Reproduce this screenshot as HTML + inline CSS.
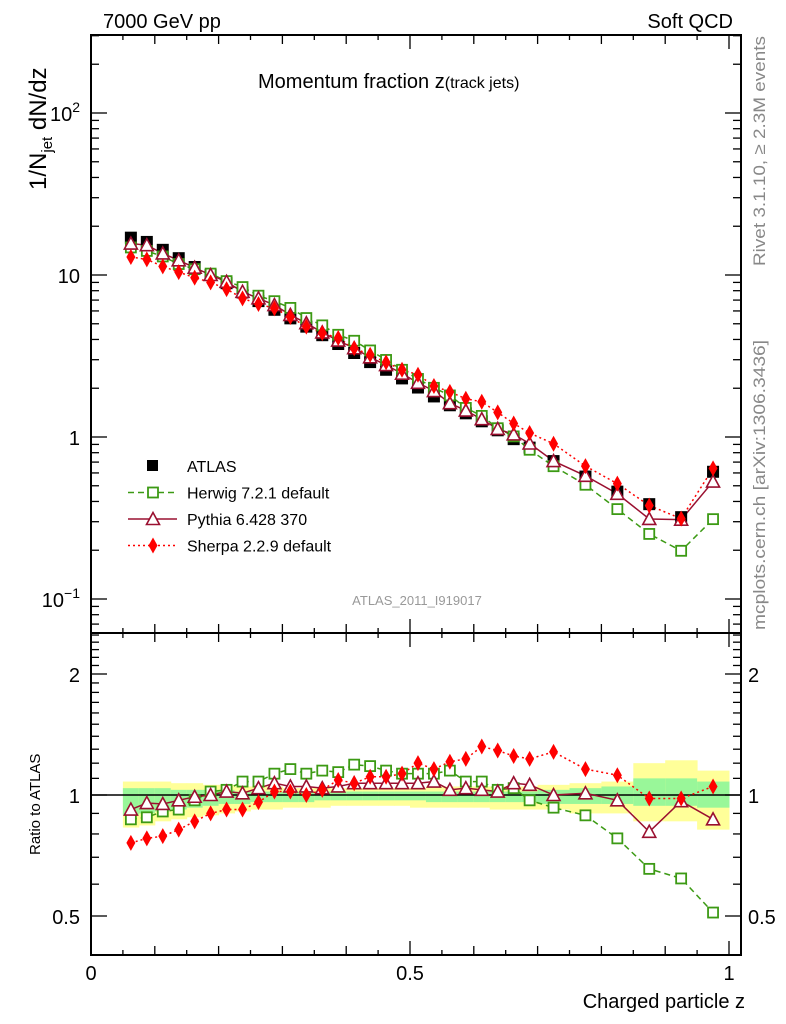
<!DOCTYPE html>
<html><head><meta charset="utf-8"><style>
body{margin:0;background:#fff}
svg{font-family:"Liberation Sans",sans-serif;display:block}
</style></head><body>
<svg id="c" width="786" height="1024" viewBox="0 0 786 1024">
<text x="103" y="28" font-size="20">7000 GeV pp</text>
<text x="733" y="28" font-size="20" text-anchor="end">Soft QCD</text>
<text x="258" y="88" font-size="20">Momentum fraction z<tspan font-size="16">(track jets)</tspan></text>
<text x="417" y="605" font-size="13" fill="#999" text-anchor="middle">ATLAS_2011_I919017</text>
<text transform="translate(765,266) rotate(-90)" font-size="17" textLength="230" lengthAdjust="spacingAndGlyphs" fill="#888">Rivet 3.1.10, ≥ 2.3M events</text>
<text transform="translate(765,630) rotate(-90)" font-size="17" textLength="290" lengthAdjust="spacingAndGlyphs" fill="#888">mcplots.cern.ch [arXiv:1306.3436]</text>
<text transform="translate(46,190) rotate(-90)" font-size="24">1/N<tspan font-size="15" dy="6">jet</tspan><tspan dy="-6"> dN/dz</tspan></text>
<text transform="translate(40,855) rotate(-90)" font-size="15">Ratio to ATLAS</text>
<text x="745" y="1008" font-size="20" text-anchor="end">Charged particle z</text>
<g id="g"></g>
</svg>
<script>
const zCenters=[0.0625,0.0875,0.1125,0.1375,0.1625,0.1875,0.2125,0.2375,0.2625,0.2875,0.3125,0.3375,0.3625,0.3875,0.4125,0.4375,0.4625,0.4875,0.5125,0.5375,0.5625,0.5875,0.6125,0.6375,0.6625,0.6875,0.725,0.775,0.825,0.875,0.925,0.975];
const zHalfW=[0.0125,0.0125,0.0125,0.0125,0.0125,0.0125,0.0125,0.0125,0.0125,0.0125,0.0125,0.0125,0.0125,0.0125,0.0125,0.0125,0.0125,0.0125,0.0125,0.0125,0.0125,0.0125,0.0125,0.0125,0.0125,0.0125,0.025,0.025,0.025,0.025,0.025,0.025];
const atlas=[17,16,14.3,12.7,11.2,10.0,8.9,7.8,6.9,6.1,5.4,4.8,4.25,3.75,3.3,2.9,2.6,2.3,2.02,1.78,1.57,1.4,1.25,1.1,0.97,0.86,0.71,0.57,0.46,0.385,0.32,0.61];
const herwigRatio=[0.87,0.88,0.91,0.92,0.97,1.02,1.03,1.08,1.08,1.13,1.16,1.13,1.15,1.14,1.19,1.18,1.15,1.13,1.13,1.13,1.15,1.08,1.08,1.03,1.04,0.97,0.93,0.89,0.78,0.655,0.62,0.51];
const pythiaRatio=[0.92,0.955,0.95,0.97,0.99,1.0,1.02,1.01,1.04,1.07,1.05,1.05,1.04,1.05,1.07,1.07,1.07,1.07,1.07,1.08,1.03,1.04,1.03,1.02,1.07,1.06,1.0,1.01,0.97,0.81,0.965,0.87];
const sherpaRatio=[0.76,0.78,0.79,0.82,0.86,0.90,0.92,0.92,0.96,1.02,1.02,1.0,1.03,1.09,1.07,1.11,1.11,1.13,1.2,1.16,1.21,1.23,1.32,1.29,1.25,1.23,1.28,1.16,1.12,0.98,0.98,1.05];
const yelHi=[1.08,1.08,1.08,1.07,1.07,1.06,1.06,1.05,1.05,1.05,1.04,1.04,1.04,1.04,1.04,1.04,1.04,1.04,1.04,1.05,1.05,1.05,1.05,1.05,1.05,1.05,1.06,1.07,1.08,1.2,1.22,1.15];
const yelLo=[0.83,0.84,0.86,0.87,0.88,0.89,0.9,0.91,0.92,0.92,0.93,0.93,0.93,0.94,0.94,0.94,0.94,0.94,0.93,0.93,0.93,0.93,0.93,0.92,0.92,0.92,0.92,0.9,0.9,0.86,0.86,0.82];
const grnHi=[1.04,1.04,1.04,1.03,1.03,1.03,1.03,1.02,1.02,1.02,1.02,1.02,1.02,1.02,1.02,1.02,1.02,1.02,1.02,1.02,1.02,1.02,1.02,1.02,1.02,1.02,1.03,1.04,1.05,1.1,1.1,1.08];
const grnLo=[0.89,0.9,0.91,0.92,0.93,0.94,0.95,0.95,0.96,0.96,0.96,0.96,0.97,0.97,0.97,0.97,0.97,0.97,0.97,0.96,0.96,0.96,0.96,0.96,0.96,0.96,0.95,0.95,0.95,0.94,0.94,0.93];
const ratioTicks=[2,1,0.5];
const xTickLabels=[0,0.5,1];

const NS="http://www.w3.org/2000/svg";
const G=document.getElementById('g');
const X0=91,X1=729,XR=741,MT=35,MB=633,RT=633,RB=955;
const xs=z=>X0+(X1-X0)*z;
const ym=v=>437-162*Math.log10(v);
const yr=r=>795-121*Math.log2(r);
function mk(tag,a,parent){const e=document.createElementNS(NS,tag);for(const k in a)e.setAttribute(k,a[k]);(parent||G).appendChild(e);return e;}

for(let i=0;i<zCenters.length;i++){
  const xa=xs(zCenters[i]-zHalfW[i]),xb=xs(zCenters[i]+zHalfW[i]);
  const b1=mk('rect',{x:xa,y:yr(yelHi[i]),width:xb-xa+0.5,height:yr(yelLo[i])-yr(yelHi[i]),fill:'#ffff99'});
  
  
  const b2=mk('rect',{x:xa,y:yr(grnHi[i]),width:xb-xa+0.5,height:yr(grnLo[i])-yr(grnHi[i]),fill:'#99f799'});
  
  
}
mk('line',{x1:X0,x2:XR,y1:yr(1),y2:yr(1),stroke:'#000','stroke-width':1.5});

const f1=mk('rect',{x:X0,y:MT,width:XR-X0,height:MB-MT,fill:'none',stroke:'#000','stroke-width':2});


const f2=mk('rect',{x:X0,y:RT,width:XR-X0,height:RB-RT,fill:'none',stroke:'#000','stroke-width':2});



for(let k=0;k<=20;k++){const z=k*0.05,x=xs(z);const L=(k%10==0)?14:(k%2==0?9:5);
  for(const yb of [MB,RB]) mk('line',{x1:x,x2:x,y1:yb,y2:yb-L,stroke:'#000','stroke-width':1.3});
  mk('line',{x1:x,x2:x,y1:MT,y2:MT+L,stroke:'#000','stroke-width':1.3});
  mk('line',{x1:x,x2:x,y1:RT,y2:RT+L,stroke:'#000','stroke-width':1.3});}
xTickLabels.forEach(v=>{const t=mk('text',{x:xs(v),y:980,'font-size':20,'text-anchor':'middle'});t.textContent=String(v);
  
  });

for(let d=-2;d<=2;d++)for(let m=1;m<10;m++){const v=m*Math.pow(10,d),y=ym(v);if(y<MT||y>MB)continue;const L=m==1?16:8;
  mk('line',{x1:X0,x2:X0+L,y1:y,y2:y,stroke:'#000','stroke-width':1.3});mk('line',{x1:XR,x2:XR-L,y1:y,y2:y,stroke:'#000','stroke-width':1.3});}
[[100,'10','2'],[10,'10',''],[1,'1',''],[0.1,'10','−1']].forEach(([v,b,e])=>{const t=mk('text',{x:80,y:ym(v)+8,'font-size':20,'text-anchor':'end'});
  t.textContent=b;if(e){const s=mk('tspan',{'font-size':14,dy:-9},t);s.textContent=e;}
  
  });

for(let m=3;m<=25;m++){const v=m/10,y=yr(v);if(y<RT||y>RB)continue;const L=(v==0.5||v==1||v==2)?16:8;
  mk('line',{x1:X0,x2:X0+L,y1:y,y2:y,stroke:'#000','stroke-width':1.3});mk('line',{x1:XR,x2:XR-L,y1:y,y2:y,stroke:'#000','stroke-width':1.3});}
ratioTicks.forEach(v=>{for(const [x,a] of [[80,'end'],[748,'start']]){const t=mk('text',{x:x,y:yr(v)+8,'font-size':20,'text-anchor':a});t.textContent=String(v);
  
  }});

function marker(type,x,y,col,parent){
  if(type=='sq') return mk('rect',{x:x-6,y:y-6,width:12,height:12,fill:'#000'},parent);
  if(type=='osq') return mk('rect',{x:x-5,y:y-5,width:10,height:10,fill:'#fff',stroke:col,'stroke-width':1.8},parent);
  if(type=='tri') return mk('polygon',{points:`${x},${y-6.5} ${x-6.5},${y+5.5} ${x+6.5},${y+5.5}`,fill:'#fff',stroke:col,'stroke-width':1.6},parent);
  return mk('polygon',{points:`${x},${y-8} ${x-4.5},${y} ${x},${y+8} ${x+4.5},${y}`,fill:col},parent);
}
const series=[
  {name:'herwig',r:herwigRatio,col:'#3c9a14',dash:'6,4',type:'osq'},
  {name:'pythia',r:pythiaRatio,col:'#9a1030',dash:'',type:'tri'},
  {name:'sherpa',r:sherpaRatio,col:'#ff0000',dash:'2,3',type:'dia'}];
series.forEach(s=>{
  const pm=zCenters.map((z,i)=>xs(z)+','+ym(atlas[i]*s.r[i])).join(' ');
  const pr=zCenters.map((z,i)=>xs(z)+','+yr(s.r[i])).join(' ');
  const l1=mk('polyline',{points:pm,fill:'none',stroke:s.col,'stroke-width':1.5,'stroke-dasharray':s.dash});
  
  
  const l2=mk('polyline',{points:pr,fill:'none',stroke:s.col,'stroke-width':1.5,'stroke-dasharray':s.dash});
  
  
});
zCenters.forEach((z,i)=>{const m=marker('sq',xs(z),ym(atlas[i]));
  
  });
series.forEach(s=>{zCenters.forEach((z,i)=>{
  const a=marker(s.type,xs(z),ym(atlas[i]*s.r[i]),s.col);
  
  
  const b=marker(s.type,xs(z),yr(s.r[i]),s.col);
  
  });});

const leg=[['ATLAS','sq','#000',''],['Herwig 7.2.1 default','osq','#3c9a14','6,4'],['Pythia 6.428 370','tri','#9a1030',''],['Sherpa 2.2.9 default','dia','#ff0000','2,3']];
leg.forEach((e,i)=>{const y=466+i*26.5;const g=mk('g',{});
  
  
  if(i>0)mk('line',{x1:128,x2:177,y1:y,y2:y,stroke:e[2],'stroke-width':1.5,'stroke-dasharray':e[3]},g);
  if(i==0)mk('rect',{x:147,y:y-6,width:11,height:11,fill:'#000'},g);else marker(e[1],153,y,e[2],g);
  const t=mk('text',{x:187,y:y+6,'font-size':16},g);t.textContent=e[0];});
</script>
</body></html>
